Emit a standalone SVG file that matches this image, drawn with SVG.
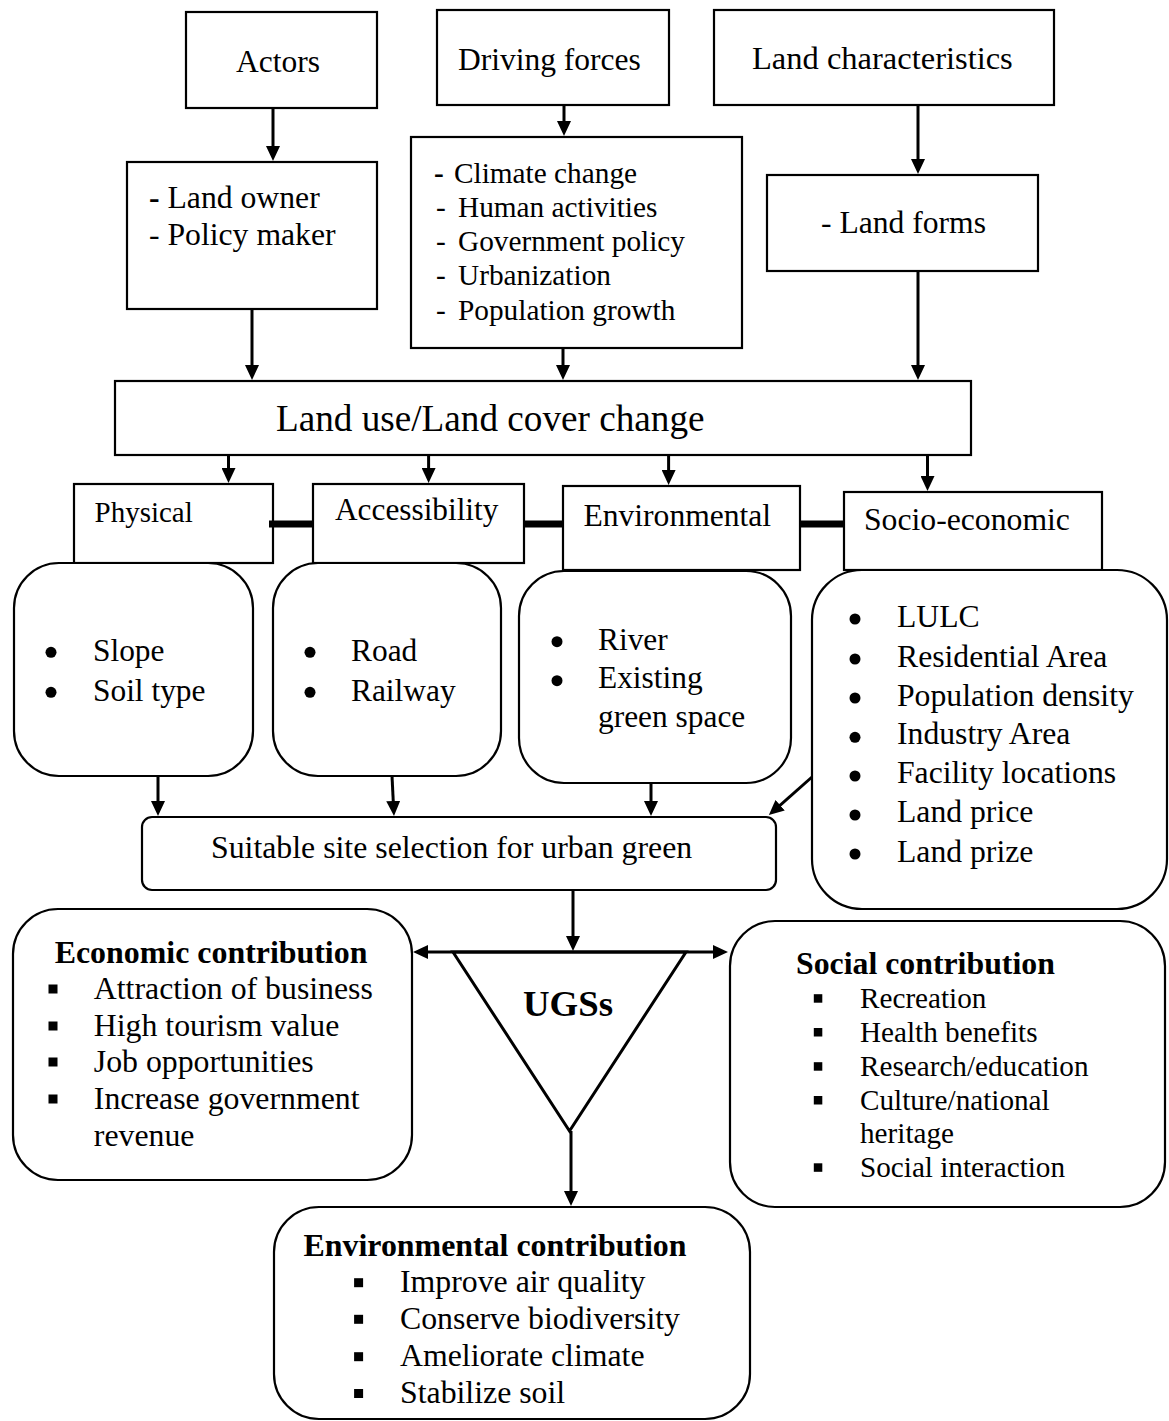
<svg xmlns="http://www.w3.org/2000/svg" width="1169" height="1421" viewBox="0 0 1169 1421">
<defs>
<marker id="ah" markerUnits="userSpaceOnUse" markerWidth="16" markerHeight="14" refX="7" refY="7" orient="auto-start-reverse"><path d="M0,0 L15,7 L0,14 z" fill="#000"/></marker>
<style>
.box{fill:#fff;stroke:#000;stroke-width:2.2}
.t{font-family:"Liberation Serif","Times New Roman",serif;fill:#000}
.b{font-weight:bold}
.arr{stroke:#000;stroke-width:3;fill:none}
.bar{stroke:#000;stroke-width:7}
.dot{fill:#000}
</style>
</defs>
<rect width="1169" height="1421" fill="#fff"/>

<g id="actors"><rect class="box" x="186" y="12" width="191" height="96"/><text class="t" x="236" y="72" font-size="31.5">Actors</text></g>
<g id="driving-forces"><rect class="box" x="437" y="10" width="232" height="95"/><text class="t" x="458" y="70" font-size="31.5">Driving forces</text></g>
<g id="land-characteristics"><rect class="box" x="714" y="10" width="340" height="95"/><text class="t" x="752" y="69" font-size="32.5">Land characteristics</text></g>

<g id="actors-list"><rect class="box" x="127" y="162" width="250" height="147"/>
<text class="t" x="149" y="208" font-size="31.7"><tspan class="b">-</tspan> Land owner</text>
<text class="t" x="149" y="245" font-size="31.7">- Policy maker</text></g>

<g id="forces-list"><rect class="box" x="411" y="137" width="331" height="211"/>
<g class="t" font-size="29.3">
<text x="434" y="183" class="b">-</text><text x="454" y="183">Climate change</text>
<text x="436" y="217">-</text><text x="458" y="217">Human activities</text>
<text x="436" y="251">-</text><text x="458" y="251">Government policy</text>
<text x="436" y="285">-</text><text x="458" y="285">Urbanization</text>
<text x="436" y="320">-</text><text x="458" y="320">Population growth</text>
</g></g>

<g id="land-forms"><rect class="box" x="767" y="175" width="271" height="96"/><text class="t" x="821" y="233" font-size="31.6">- Land forms</text></g>

<g id="lulc-change"><rect class="box" x="115" y="381" width="856" height="74"/><text class="t" x="276" y="431" font-size="37.2">Land use/Land cover change</text></g>

<g id="physical"><rect class="box" x="74" y="484" width="199" height="79"/><text class="t" x="94.5" y="521.7" font-size="29">Physical</text></g>
<g id="accessibility"><rect class="box" x="313" y="484" width="211" height="79"/><text class="t" x="335" y="520" font-size="31.3">Accessibility</text></g>
<g id="environmental"><rect class="box" x="563" y="486" width="237" height="84"/><text class="t" x="583.4" y="526" font-size="31.6">Environmental</text></g>
<g id="socio-economic"><rect class="box" x="844" y="492" width="258" height="78"/><text class="t" x="864" y="530" font-size="31.7">Socio-economic</text></g>

<g id="physical-list"><rect class="box" x="14" y="563" width="239" height="213" rx="45"/>
<circle class="dot" cx="51" cy="652.3" r="5.5"/><circle class="dot" cx="51" cy="692.3" r="5.5"/>
<text class="t" x="93" y="661" font-size="31.4">Slope</text><text class="t" x="93" y="701" font-size="31.4">Soil type</text></g>

<g id="accessibility-list"><rect class="box" x="273" y="563" width="228" height="213" rx="45"/>
<circle class="dot" cx="310" cy="652.3" r="5.5"/><circle class="dot" cx="310" cy="692.3" r="5.5"/>
<text class="t" x="351" y="661" font-size="31.4">Road</text><text class="t" x="351" y="701" font-size="31.4">Railway</text></g>

<g id="environmental-list"><rect class="box" x="519" y="571" width="272" height="212" rx="45"/>
<circle class="dot" cx="557" cy="641.7" r="5.5"/><circle class="dot" cx="557" cy="680.7" r="5.5"/>
<g class="t" font-size="31.4"><text x="598" y="650">River</text><text x="598" y="688">Existing</text><text x="598" y="727">green space</text></g></g>

<g id="socio-list"><rect class="box" x="812" y="570" width="355" height="339" rx="50"/>
<g class="dot"><circle cx="855" cy="619" r="5.5"/><circle cx="855" cy="659" r="5.5"/><circle cx="855" cy="698" r="5.5"/><circle cx="855" cy="737.3" r="5.5"/><circle cx="855" cy="776" r="5.5"/><circle cx="855" cy="815" r="5.5"/><circle cx="855" cy="854" r="5.5"/></g>
<g class="t" font-size="31.7">
<text x="897" y="626.7">LULC</text>
<text x="897" y="666.7">Residential Area</text>
<text x="897" y="705.7">Population density</text>
<text x="897" y="744">Industry Area</text>
<text x="897" y="783">Facility locations</text>
<text x="897" y="822">Land price</text>
<text x="897" y="861.7">Land prize</text>
</g></g>

<g id="suitable-site"><rect class="box" x="142" y="817" width="634" height="73" rx="10"/><text class="t" x="211" y="858" font-size="31.8">Suitable site selection for urban green</text></g>

<g id="ugss"><polygon points="453,952 686,952 569.5,1131" fill="#fff" stroke="#000" stroke-width="3"/><text class="t b" x="523" y="1016" font-size="36.8">UGSs</text></g>

<g id="economic-contribution"><rect class="box" x="13" y="909" width="399" height="271" rx="45"/>
<text class="t b" x="54.7" y="962.8" font-size="31.9">Economic contribution</text>
<g class="dot"><rect x="48.5" y="984.5" width="9" height="9"/><rect x="48.5" y="1021.5" width="9" height="9"/><rect x="48.5" y="1057.5" width="9" height="9"/><rect x="48.5" y="1094.5" width="9" height="9"/></g>
<g class="t" font-size="31.8">
<text x="93.8" y="999">Attraction of business</text>
<text x="93.8" y="1036">High tourism value</text>
<text x="93.8" y="1072">Job opportunities</text>
<text x="93.8" y="1109">Increase government</text>
<text x="93.8" y="1146.4">revenue</text>
</g></g>

<g id="social-contribution"><rect class="box" x="730" y="921" width="435" height="286" rx="45"/>
<text class="t b" x="796" y="974" font-size="31.8">Social contribution</text>
<g class="dot"><rect x="813.8" y="994.2" width="8.5" height="8.5"/><rect x="813.8" y="1028" width="8.5" height="8.5"/><rect x="813.8" y="1062.2" width="8.5" height="8.5"/><rect x="813.8" y="1096" width="8.5" height="8.5"/><rect x="813.8" y="1163.3" width="8.5" height="8.5"/></g>
<g class="t" font-size="29.2">
<text x="860" y="1007.7">Recreation</text>
<text x="860" y="1041.5">Health benefits</text>
<text x="860" y="1075.7">Research/education</text>
<text x="860" y="1109.5">Culture/national</text>
<text x="860" y="1143">heritage</text>
<text x="860" y="1176.8">Social interaction</text>
</g></g>

<g id="environmental-contribution"><rect class="box" x="274" y="1207" width="476" height="212" rx="45"/>
<text class="t b" x="303.5" y="1256" font-size="31.9">Environmental contribution</text>
<g class="dot"><rect x="354.1" y="1278.2" width="9" height="9"/><rect x="354.1" y="1314.8" width="9" height="9"/><rect x="354.1" y="1352.2" width="9" height="9"/><rect x="354.1" y="1389" width="9" height="9"/></g>
<g class="t" font-size="31.8">
<text x="400" y="1292">Improve air quality</text>
<text x="400" y="1328.6">Conserve biodiversity</text>
<text x="400" y="1366">Ameliorate climate</text>
<text x="400" y="1402.8">Stabilize soil</text>
</g></g>

<g id="connectors">
<line class="arr" x1="273" y1="108" x2="273" y2="153" marker-end="url(#ah)"/>
<line class="arr" x1="564" y1="105" x2="564" y2="128" marker-end="url(#ah)"/>
<line class="arr" x1="918" y1="105" x2="918" y2="166" marker-end="url(#ah)"/>
<line class="arr" x1="252" y1="309" x2="252" y2="372" marker-end="url(#ah)"/>
<line class="arr" x1="563" y1="348" x2="563" y2="372" marker-end="url(#ah)"/>
<line class="arr" x1="918" y1="271" x2="918" y2="372" marker-end="url(#ah)"/>
<line class="arr" x1="228.5" y1="455" x2="228.5" y2="475" marker-end="url(#ah)"/>
<line class="arr" x1="428.6" y1="455" x2="428.6" y2="475" marker-end="url(#ah)"/>
<line class="arr" x1="668.6" y1="455" x2="668.6" y2="477" marker-end="url(#ah)"/>
<line class="arr" x1="927.5" y1="455" x2="927.5" y2="483" marker-end="url(#ah)"/>
<line class="bar" x1="269" y1="524" x2="313" y2="524"/>
<line class="bar" x1="524" y1="524" x2="563" y2="524"/>
<line class="bar" x1="800" y1="524" x2="844" y2="524"/>
<line class="arr" x1="158" y1="776" x2="158" y2="808" marker-end="url(#ah)"/>
<line class="arr" x1="392" y1="776" x2="393.6" y2="808" marker-end="url(#ah)"/>
<line class="arr" x1="651" y1="783" x2="651" y2="808" marker-end="url(#ah)"/>
<line class="arr" x1="812" y1="777" x2="774.9" y2="809.8" marker-end="url(#ah)"/>
<line class="arr" x1="573" y1="890" x2="573" y2="943" marker-end="url(#ah)"/>
<line class="arr" x1="421" y1="952" x2="720" y2="952" marker-start="url(#ah)" marker-end="url(#ah)"/>
<line class="arr" x1="571" y1="1131" x2="571" y2="1198" marker-end="url(#ah)"/>
</g>
</svg>
